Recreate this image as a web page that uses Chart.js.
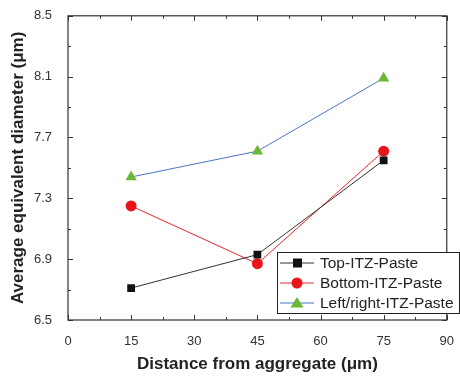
<!DOCTYPE html>
<html>
<head>
<meta charset="utf-8">
<script src="https://cdn.jsdelivr.net/npm/chart.js@4"></script>
<style>
  html, body { margin: 0; padding: 0; background: #fff; }
  #wrap { width: 460px; height: 379px; }
</style>
</head>
<body>
<div id="wrap"><canvas id="diameter_chart"></canvas></div>
<script>
const distances = [15, 45, 75];
const topPaste = [6.71, 6.93, 7.55];
const bottomPaste = [7.25, 6.87, 7.61];
const sidePaste = [7.44, 7.61, 8.09];
const seriesNames = ["Top-ITZ-Paste", "Bottom-ITZ-Paste", "Left/right-ITZ-Paste"];

const toPoints = (ys) => distances.map((x, i) => ({ x: x, y: ys[i] }));

// inward ticks + frame, like the Origin style plot
const framePlugin = {
    id: 'frame',
    afterDatasetsDraw(chart) {
        const c = chart.ctx;
        const a = chart.chartArea;
        const xs = chart.scales.x;
        const ys = chart.scales.y;
        c.save();
        c.strokeStyle = '#333';
        c.lineWidth = 1.2;
        c.strokeRect(a.left, a.top, a.right - a.left, a.bottom - a.top);
        c.lineWidth = 1;
        for (let v = 0; v <= 90; v += 7.5) {
            const px = Math.round(xs.getPixelForValue(v)) + 0.5;
            const len = v % 15 === 0 ? 5 : 3;
            c.beginPath();
            c.moveTo(px, a.bottom); c.lineTo(px, a.bottom - len);
            c.moveTo(px, a.top); c.lineTo(px, a.top + len);
            c.stroke();
        }
        for (let k = 0; k <= 10; k++) {
            const py = Math.round(ys.getPixelForValue(6.5 + k * 0.2)) + 0.5;
            const len = k % 2 === 0 ? 5 : 3;
            c.beginPath();
            c.moveTo(a.left, py); c.lineTo(a.left + len, py);
            c.moveTo(a.right, py); c.lineTo(a.right - len, py);
            c.stroke();
        }
        c.restore();
    },
    afterDraw(chart) {
        const c = chart.ctx;
        const bx = 277, by = 252, bw = 182, bh = 61;
        c.save();
        c.fillStyle = '#fff';
        c.fillRect(bx, by, bw, bh);
        c.strokeStyle = '#222';
        c.lineWidth = 1;
        c.strokeRect(bx + 0.5, by + 0.5, bw, bh);
        c.font = '15.5px Arial, "Liberation Sans", sans-serif';
        c.textBaseline = 'middle';
        chart.data.datasets.forEach((ds, i) => {
            const cy = by + 11 + i * 20;
            c.strokeStyle = ds.borderColor;
            c.lineWidth = 1;
            c.beginPath();
            c.moveTo(bx + 3, cy); c.lineTo(bx + 37, cy);
            c.stroke();
            c.fillStyle = ds.pointBackgroundColor;
            if (ds.pointStyle === 'rect') {
                c.fillRect(bx + 16, cy - 4.5, 9, 9);
            } else if (ds.pointStyle === 'circle') {
                c.beginPath(); c.arc(bx + 20, cy, 5.5, 0, Math.PI * 2); c.fill();
            } else {
                c.beginPath();
                c.moveTo(bx + 20, cy - 6); c.lineTo(bx + 26.5, cy + 4.5); c.lineTo(bx + 13.5, cy + 4.5);
                c.closePath(); c.fill();
            }
            c.fillStyle = '#222';
            c.fillText(ds.label, bx + 43, cy + 1);
        });
        c.restore();
    }
};

const ctx = document.getElementById('diameter_chart').getContext('2d');

const diameterChart = new Chart(ctx, {
    type: 'line',
    data: {
        datasets: [{
            label: seriesNames[0],
            data: toPoints(topPaste),
            borderColor: '#333',
            borderWidth: 1,
            pointStyle: 'rect',
            pointRadius: 5.5,
            pointBackgroundColor: '#111',
            pointBorderWidth: 0
        }, {
            label: seriesNames[1],
            data: toPoints(bottomPaste),
            borderColor: '#e8262a',
            borderWidth: 1,
            pointStyle: 'circle',
            pointRadius: 5.5,
            pointBackgroundColor: '#e8141c',
            pointBorderWidth: 0
        }, {
            label: seriesNames[2],
            data: toPoints(sidePaste),
            borderColor: '#4a72c4',
            borderWidth: 1,
            pointStyle: 'triangle',
            pointRadius: 6.5,
            pointBackgroundColor: '#6ab834',
            pointBorderWidth: 0
        }]
    },
    options: {
        responsive: true,
        maintainAspectRatio: false,
        animation: false,
        layout: { padding: { top: 10, right: 7, left: 0, bottom: 0 } },
        plugins: { legend: { display: false }, tooltip: { enabled: false } },
        scales: {
            x: {
                type: 'linear',
                min: 0, max: 90,
                grid: { display: false },
                border: { display: false },
                ticks: {
                    stepSize: 7.5,
                    autoSkip: false,
                    maxRotation: 0,
                    padding: 6,
                    color: '#333',
                    font: { family: 'Arial, "Liberation Sans", sans-serif', size: 13 },
                    callback: (v) => (v % 15 === 0 ? String(v) : '')
                },
                title: {
                    display: true,
                    text: 'Distance from aggregate (μm)',
                    color: '#222',
                    font: { family: 'Arial, "Liberation Sans", sans-serif', size: 17, weight: 'bold' },
                    padding: { top: 6 }
                },
                afterFit: (s) => { s.height = 59; }
            },
            y: {
                min: 6.5, max: 8.5,
                grid: { display: false },
                border: { display: false },
                ticks: {
                    stepSize: 0.2,
                    autoSkip: false,
                    padding: 8,
                    color: '#333',
                    font: { family: 'Arial, "Liberation Sans", sans-serif', size: 13 },
                    callback: (v) => (Math.round((v - 6.5) / 0.2) % 2 === 0 ? v.toFixed(1) : '')
                },
                title: {
                    display: true,
                    text: 'Average equivalent diameter (μm)',
                    color: '#222',
                    font: { family: 'Arial, "Liberation Sans", sans-serif', size: 17, weight: 'bold' },
                    padding: { top: 8, bottom: 4 }
                },
                afterFit: (s) => { s.width = 68; }
            }
        }
    },
    plugins: [framePlugin]
});
</script>
</body>
</html>
